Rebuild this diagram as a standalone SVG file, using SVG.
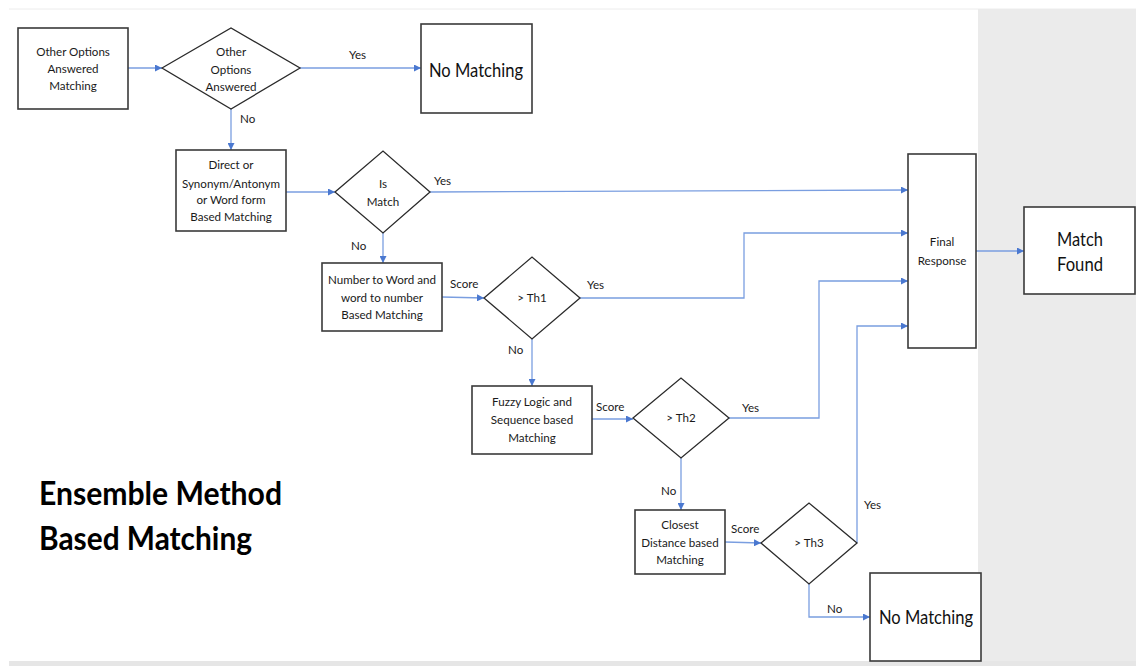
<svg xmlns="http://www.w3.org/2000/svg" width="1136" height="666" viewBox="0 0 1136 666">
<defs>
<marker id="ah" viewBox="0 0 10 10" refX="10" refY="5" markerWidth="7" markerHeight="7" markerUnits="userSpaceOnUse" orient="auto">
<path d="M0,0 L10,5 L0,10 Z" fill="#4a78d0"/>
</marker>
<style>
.box{fill:#fff;stroke:#3a3a3a;stroke-width:1.6}
.dia{fill:#fff;stroke:#2a2a2a;stroke-width:1.3}
.ca{fill:none;stroke:#7a9ee0;stroke-width:1.3;marker-end:url(#ah)}
.t{font-family:Lato,"Open Sans","Liberation Sans",sans-serif;font-size:11.6px;fill:#1a1a1a;text-anchor:middle}
.l{font-family:Lato,"Open Sans","Liberation Sans",sans-serif;font-size:11.6px;fill:#1a1a1a}
.big{font-family:Lato,"Open Sans","Liberation Sans",sans-serif;font-size:20px;fill:#111;text-anchor:middle}
.title{font-family:Lato,"Open Sans","Liberation Sans",sans-serif;font-size:33px;font-weight:bold;fill:#000}
</style>
</defs>
<rect x="0" y="0" width="1136" height="666" fill="#fff"/>
<rect x="978" y="9" width="158" height="657" fill="#ebebeb"/>
<rect x="9" y="661" width="1127" height="5" fill="#e6e6e6"/>
<line x1="9" y1="9" x2="1136" y2="9" stroke="#ececec" stroke-width="1"/>

<g id="connectors">
<line class="ca" x1="128" y1="68" x2="162" y2="68"/>
<line class="ca" x1="300" y1="68" x2="421" y2="68"/>
<line class="ca" x1="231" y1="109" x2="231" y2="150"/>
<line class="ca" x1="286" y1="192" x2="335" y2="192"/>
<line class="ca" x1="430" y1="192" x2="908" y2="190"/>
<line class="ca" x1="383" y1="233" x2="383" y2="263"/>
<line class="ca" x1="442" y1="297" x2="484" y2="298"/>
<polyline class="ca" points="580,298 744,298 744,233 908,233"/>
<line class="ca" x1="532" y1="339" x2="532" y2="386"/>
<line class="ca" x1="592" y1="419" x2="633" y2="419"/>
<polyline class="ca" points="729,418 819,418 819,281 908,281"/>
<line class="ca" x1="681" y1="458" x2="681" y2="510"/>
<line class="ca" x1="725" y1="542" x2="761" y2="543"/>
<polyline class="ca" points="857,543 857,326 908,326"/>
<polyline class="ca" points="809,584 809,617 870,617"/>
<line class="ca" x1="976" y1="251" x2="1024" y2="251"/>
<text class="l" x="349" y="59">Yes</text>
<text class="l" x="240" y="123">No</text>
<text class="l" x="434" y="185">Yes</text>
<text class="l" x="351" y="250">No</text>
<text class="l" x="450" y="288">Score</text>
<text class="l" x="587" y="289">Yes</text>
<text class="l" x="508" y="354">No</text>
<text class="l" x="596" y="411">Score</text>
<text class="l" x="742" y="412">Yes</text>
<text class="l" x="661" y="495">No</text>
<text class="l" x="731" y="533">Score</text>
<text class="l" x="864" y="509">Yes</text>
<text class="l" x="827" y="613">No</text>
</g>

<g id="n1"><rect class="box" x="18" y="28" width="110" height="81"/>
<text class="t" x="73" y="56">Other Options</text><text class="t" x="73" y="73">Answered</text><text class="t" x="73" y="90">Matching</text></g>
<g id="d1"><polygon class="dia" points="162,68 231,28 300,68 231,109"/>
<text class="t" x="231" y="56">Other</text><text class="t" x="231" y="74">Options</text><text class="t" x="231" y="91">Answered</text></g>
<g id="nm1"><rect class="box" x="421" y="24" width="111" height="89"/>
<text class="big" x="476" y="77" textLength="94" lengthAdjust="spacingAndGlyphs">No Matching</text></g>
<g id="n2"><rect class="box" x="176" y="150" width="110" height="81"/>
<text class="t" x="231" y="169">Direct or</text><text class="t" x="231" y="188">Synonym/Antonym</text><text class="t" x="231" y="204">or Word form</text><text class="t" x="231" y="221">Based Matching</text></g>
<g id="d2"><polygon class="dia" points="335,192 383,151 430,192 383,233"/>
<text class="t" x="383" y="188">Is</text><text class="t" x="383" y="206">Match</text></g>
<g id="n3"><rect class="box" x="322" y="263" width="120" height="68"/>
<text class="t" x="382" y="284">Number to Word and</text><text class="t" x="382" y="302">word to number</text><text class="t" x="382" y="319">Based Matching</text></g>
<g id="d3"><polygon class="dia" points="484,298 532,257 580,298 532,339"/>
<text class="t" x="532" y="302">&gt; Th1</text></g>
<g id="n4"><rect class="box" x="472" y="386" width="120" height="68"/>
<text class="t" x="532" y="406">Fuzzy Logic and</text><text class="t" x="532" y="424">Sequence based</text><text class="t" x="532" y="442">Matching</text></g>
<g id="d4"><polygon class="dia" points="633,418 681,378 729,418 681,458"/>
<text class="t" x="681" y="422">&gt; Th2</text></g>
<g id="n5"><rect class="box" x="635" y="510" width="90" height="64"/>
<text class="t" x="680" y="529">Closest</text><text class="t" x="680" y="547">Distance based</text><text class="t" x="680" y="564">Matching</text></g>
<g id="d5"><polygon class="dia" points="761,543 809,503 857,543 809,584"/>
<text class="t" x="809" y="547">&gt; Th3</text></g>
<g id="nm2"><rect class="box" x="870" y="573" width="111" height="88"/>
<text class="big" x="926" y="624" textLength="94" lengthAdjust="spacingAndGlyphs">No Matching</text></g>
<g id="fr"><rect class="box" x="908" y="154" width="68" height="194"/>
<text class="t" x="942" y="246">Final</text><text class="t" x="942" y="265">Response</text></g>
<g id="mf"><rect class="box" x="1024" y="207" width="111" height="87"/>
<text class="big" x="1080" y="246" textLength="46" lengthAdjust="spacingAndGlyphs">Match</text><text class="big" x="1080" y="271" textLength="46" lengthAdjust="spacingAndGlyphs">Found</text></g>
<g id="title"><text class="title" x="39" y="505" textLength="243" lengthAdjust="spacingAndGlyphs">Ensemble Method</text><text class="title" x="39" y="550" textLength="213" lengthAdjust="spacingAndGlyphs">Based Matching</text></g>
</svg>
